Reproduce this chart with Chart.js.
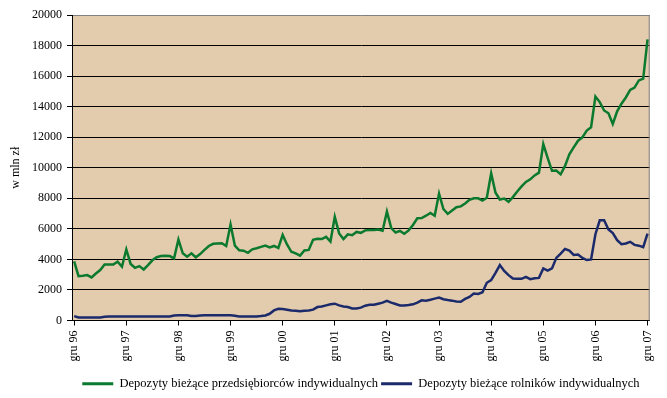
<!DOCTYPE html>
<html>
<head>
<meta charset="utf-8">
<script src="https://cdn.jsdelivr.net/npm/chart.js@4"></script>
<style>
  body { margin: 0; background: #fff; }
</style>
</head>
<body>
<canvas id="depozyty" width="667" height="398"></canvas>
<script>
// kategorie: miesiace od gru 96 do gru 07
const monthNames = ['sty','lut','mar','kwi','maj','cze','lip','sie','wrz','paź','lis','gru'];
const years = ['97','98','99','00','01','02','03','04','05','06','07'];

// Depozyty bieżące przedsiębiorców indywidualnych (w mln zł)
const przedsiebiorcy = [
  3870, 2900, 2930, 2970, 2820, 3080, 3300, 3670, 3670, 3670, 3850, 3520,
  4650, 3700, 3450, 3560, 3340, 3630, 3940, 4140, 4220, 4240, 4220, 4070,
  5300, 4400, 4180, 4400, 4140, 4350, 4620, 4880, 5020, 5040, 5060, 4880,
  6280, 4900, 4600, 4570, 4430, 4660, 4730, 4820, 4900, 4780, 4880, 4750,
  5600, 4980, 4500, 4400, 4250, 4580, 4620, 5280, 5350, 5330, 5480, 5170,
  6780, 5700, 5330, 5640, 5580, 5800, 5740, 5900, 5920, 5930, 5950, 5880,
  7130, 6050, 5760, 5870, 5680, 5900, 6250, 6690, 6710, 6860, 7040, 6860,
  8310, 7300, 6980, 7200, 7420, 7470, 7660, 7900, 8000, 8000, 7850, 8030,
  9630, 8360, 7920, 7980, 7770, 8080, 8450, 8780, 9070, 9240, 9500, 9680,
  11550, 10650, 9800, 9820, 9570, 10120, 10880, 11330, 11770, 11990, 12430, 12650,
  14660, 14300, 13750, 13570, 12870, 13690, 14190, 14600, 15100, 15250, 15720, 15840,
  18400
];

// Depozyty bieżące rolników indywidualnych (w mln zł)
const rolnicy = [
  290, 200, 200, 200, 200, 200, 200, 240, 260, 260, 260, 260,
  260, 260, 260, 260, 260, 260, 260, 260, 260, 260, 260, 330,
  350, 350, 340, 290, 290, 330, 350, 350, 350, 350, 350, 350,
  340, 310, 264, 264, 264, 264, 264, 290, 330, 440, 660, 770,
  750, 710, 660, 640, 600, 640, 660, 710, 880, 920, 990, 1060,
  1100, 990, 920, 880, 790, 790, 840, 970, 1030, 1030, 1100, 1170,
  1280, 1170, 1080, 990, 990, 1010, 1060, 1170, 1320, 1300, 1360, 1430,
  1500, 1390, 1340, 1300, 1250, 1230, 1410, 1540, 1760, 1740, 1850, 2470,
  2640, 3120, 3630, 3240, 2970, 2750, 2730, 2730, 2860, 2710, 2770, 2790,
  3410, 3260, 3410, 4100, 4380, 4680, 4580, 4290, 4320, 4100, 3960, 4000,
  5650, 6560, 6560, 5960, 5720, 5260, 5000, 5040, 5150, 4950, 4900, 4800,
  5680
];

const labels = ['gru 96'];
years.forEach(y => monthNames.forEach(m => labels.push(m + ' ' + y)));

const GREEN = '#0B7A2F';
const NAVY = '#1B2A6B';
const PLOT_BG = '#E3CBAD';

Chart.defaults.color = '#000';
Chart.defaults.font.family = '"Liberation Serif", "Times New Roman", serif';
Chart.defaults.font.size = 12;

const plotBackground = {
  id: 'plotBackground',
  beforeDraw(chart) {
    const { ctx, chartArea: a } = chart;
    ctx.save();
    ctx.fillStyle = PLOT_BG;
    ctx.fillRect(a.left, a.top, a.right - a.left, a.bottom - a.top);
    ctx.restore();
  },
  beforeDatasetsDraw(chart) {
    const { ctx, chartArea: a } = chart;
    ctx.save();
    ctx.strokeStyle = '#808080';
    ctx.lineWidth = 1;
    ctx.beginPath();
    ctx.moveTo(a.right - 0.5, a.top);
    ctx.lineTo(a.right - 0.5, a.bottom);
    ctx.stroke();
    ctx.restore();
  }
};

const defaultLabels = Chart.defaults.plugins.legend.labels.generateLabels;

new Chart(document.getElementById('depozyty'), {
  type: 'line',
  data: {
    labels: labels,
    datasets: [
      {
        label: 'Depozyty bieżące przedsiębiorców indywidualnych',
        data: przedsiebiorcy,
        borderColor: GREEN,
        backgroundColor: GREEN,
        borderWidth: 2.5,
        pointRadius: 0,
        tension: 0
      },
      {
        label: 'Depozyty bieżące rolników indywidualnych',
        data: rolnicy,
        borderColor: NAVY,
        backgroundColor: NAVY,
        borderWidth: 2.5,
        pointRadius: 0,
        tension: 0
      }
    ]
  },
  options: {
    responsive: false,
    animation: false,
    layout: { padding: { top: 15, right: 15, left: 0, bottom: -2 } },
    plugins: {
      tooltip: { enabled: false },
      legend: {
        position: 'bottom',
        fullSize: false,
        labels: {
          boxWidth: 31,
          boxHeight: 3,
          padding: 3,
          font: { size: 12.5 },
          generateLabels: chart => defaultLabels(chart).map(l => ({ ...l, lineWidth: 0 }))
        }
      }
    },
    scales: {
      x: {
        type: 'category',
        offset: true,
        afterFit: scale => { scale.height = 54; },
        border: { display: true, color: '#000', width: 1 },
        grid: {
          drawOnChartArea: false,
          drawTicks: true,
          tickLength: 5,
          color: ctx => (ctx.index % 12 === 0 ? '#000' : 'rgba(0,0,0,0)')
        },
        ticks: {
          autoSkip: false,
          minRotation: 90,
          maxRotation: 90,
          padding: 5,
          callback: (v, i) => (i % 12 === 0 ? labels[i] : '')
        }
      },
      y: {
        min: 0,
        max: 20000,
        afterFit: scale => { scale.width = 72; },
        border: { display: true, color: '#000', width: 1 },
        grid: {
          color: ctx => (ctx.tick && ctx.tick.value === 20000 ? '#808080' : '#000'),
          lineWidth: 1,
          drawTicks: true,
          tickLength: 5,
          tickColor: '#000'
        },
        ticks: {
          stepSize: 2000,
          padding: 5,
          callback: v => String(v)
        },
        title: {
          display: true,
          text: 'w mln zł',
          padding: { top: 9, bottom: 0 },
          font: { size: 12 }
        }
      }
    }
  },
  plugins: [plotBackground]
});
</script>
</body>
</html>
